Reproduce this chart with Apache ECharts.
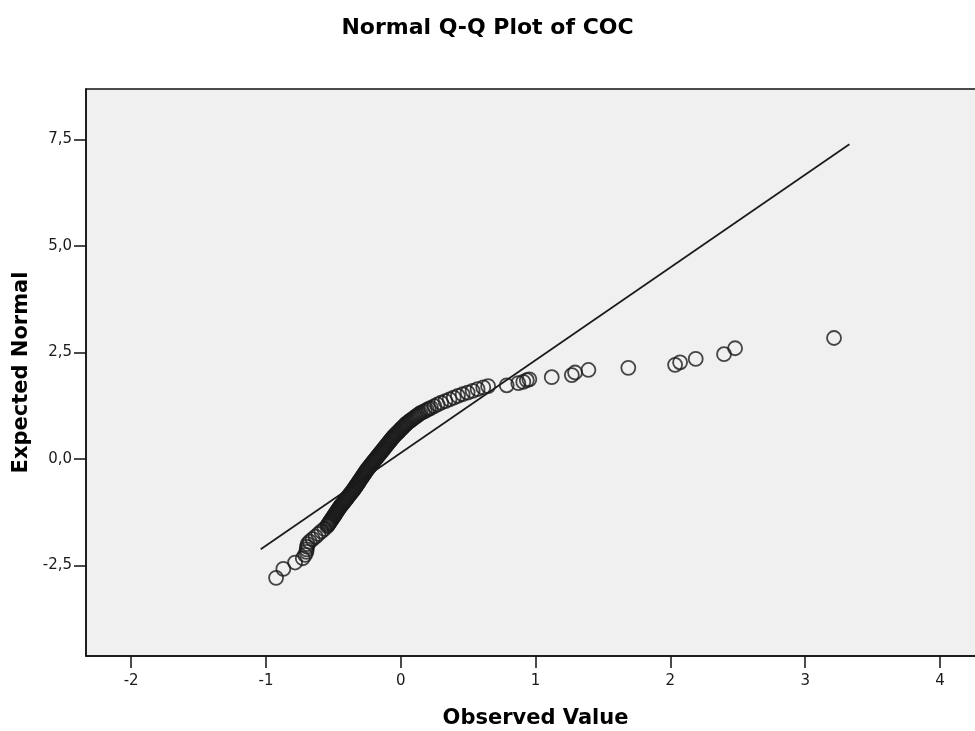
<!DOCTYPE html>
<html>
<head>
<meta charset="utf-8">
<title>Normal Q-Q Plot of COC</title>
<script src="https://cdn.jsdelivr.net/npm/echarts@6/dist/echarts.min.js"></script>
<style>
  html, body { margin: 0; padding: 0; background: #ffffff; }
  #chart { width: 975px; height: 731px; }
</style>
</head>
<body>
<div id="chart"></div>
<script>
const observed = [
    -0.925, -0.871, -0.784, -0.727, -0.710,
    -0.700, -0.698, -0.695, -0.691, -0.676, -0.654, -0.632, -0.611, -0.589, -0.567,
    -0.546, -0.541, -0.535, -0.530, -0.525, -0.520, -0.514, -0.509, -0.504, -0.499,
    -0.493, -0.488, -0.483, -0.477, -0.472, -0.467, -0.462, -0.456, -0.451, -0.445,
    -0.439, -0.432, -0.426, -0.420, -0.414, -0.407, -0.401, -0.395, -0.388, -0.382,
    -0.376, -0.370, -0.363, -0.357, -0.351, -0.346, -0.340, -0.335, -0.330, -0.324,
    -0.319, -0.314, -0.308, -0.303, -0.298, -0.292, -0.287, -0.282, -0.276, -0.271,
    -0.266, -0.260, -0.255, -0.250, -0.243, -0.237, -0.231, -0.224, -0.218, -0.212,
    -0.206, -0.199, -0.193, -0.187, -0.180, -0.174, -0.168, -0.162, -0.155, -0.149,
    -0.143, -0.136, -0.130, -0.124, -0.117, -0.111, -0.105, -0.098, -0.092, -0.086,
    -0.079, -0.073, -0.066, -0.060, -0.053, -0.046, -0.038, -0.030, -0.022, -0.014,
    -0.007, 0.001, 0.009, 0.017, 0.025, 0.033, 0.040, 0.049, 0.060, 0.071,
    0.081, 0.092, 0.103, 0.113, 0.124, 0.135, 0.146, 0.162, 0.177, 0.193,
    0.208, 0.224,
    0.249, 0.273, 0.300, 0.331, 0.362, 0.393, 0.424, 0.459, 0.496, 0.533,
    0.570, 0.612, 0.648,
    0.786, 0.872, 0.909, 0.935, 0.954, 1.120, 1.269, 1.293, 1.392, 1.688,
    2.035, 2.072, 2.188, 2.398, 2.480, 3.214
];
const expected = [
    -2.79, -2.58, -2.43, -2.33, -2.25,
    -2.18, -2.12, -2.06, -2.00, -1.94, -1.88, -1.82, -1.76, -1.70, -1.64,
    -1.575, -1.550, -1.525, -1.500, -1.475, -1.450, -1.425, -1.400, -1.375, -1.350,
    -1.325, -1.300, -1.275, -1.250, -1.225, -1.200, -1.175, -1.150, -1.125, -1.100,
    -1.075, -1.050, -1.025, -1.000, -0.975, -0.950, -0.925, -0.900, -0.875, -0.850,
    -0.825, -0.800, -0.775, -0.750, -0.725, -0.700, -0.675, -0.650, -0.625, -0.600,
    -0.575, -0.550, -0.525, -0.500, -0.475, -0.450, -0.425, -0.400, -0.375, -0.350,
    -0.325, -0.300, -0.275, -0.250, -0.225, -0.200, -0.175, -0.150, -0.125, -0.100,
    -0.075, -0.050, -0.025, 0.000, 0.025, 0.050, 0.075, 0.100, 0.125, 0.150,
    0.175, 0.200, 0.225, 0.250, 0.275, 0.300, 0.325, 0.350, 0.375, 0.400,
    0.425, 0.450, 0.475, 0.500, 0.525, 0.550, 0.575, 0.600, 0.625, 0.650,
    0.675, 0.700, 0.725, 0.750, 0.775, 0.800, 0.825, 0.850, 0.875, 0.900,
    0.925, 0.950, 0.975, 1.000, 1.025, 1.050, 1.075, 1.100, 1.125, 1.150,
    1.175, 1.200,
    1.24, 1.28, 1.32, 1.36, 1.40, 1.44, 1.48, 1.52, 1.56, 1.60,
    1.64, 1.68, 1.71,
    1.73, 1.78, 1.81, 1.85, 1.87, 1.92, 1.97, 2.03, 2.09, 2.14,
    2.21, 2.27, 2.35, 2.46, 2.60, 2.84
];

// reference line end points
const refLineX = [-1.039, 3.328];
const refLineY = [-2.12, 7.387];

const xTicks = [-2, -1, 0, 1, 2, 3, 4];
const yTicks = [-2.5, 0, 2.5, 5, 7.5];

const fontFamily = '"DejaVu Sans", sans-serif';
const inkColor = '#1a1a1a';

const points = observed.map(function (v, i) { return [v, expected[i]]; });
const refLine = refLineX.map(function (v, i) { return [v, refLineY[i]]; });

const chart = echarts.init(document.getElementById('chart'));
chart.setOption({
    animation: false,
    backgroundColor: '#ffffff',
    textStyle: { fontFamily: fontFamily, color: inkColor },
    title: {
        text: 'Normal Q-Q Plot of COC',
        left: 'center',
        top: 12,
        textStyle: { fontFamily: fontFamily, fontSize: 22, fontWeight: 'bold', color: '#000' }
    },
    grid: {
        left: 86,
        top: 89,
        right: -10,
        bottom: 75,
        outerBoundsMode: 'none',
        containLabel: false,
        show: true,
        backgroundColor: '#f0f0f0',
        borderColor: '#111',
        borderWidth: 1.5
    },
    xAxis: {
        type: 'value',
        min: -2.335,
        max: 4.334,
        name: 'Observed Value',
        nameLocation: 'middle',
        nameGap: 52,
        nameTextStyle: { fontFamily: fontFamily, fontSize: 21, fontWeight: 'bold', color: '#000' },
        axisLine: { show: true, onZero: false, lineStyle: { color: '#111', width: 1.5 } },
        axisTick: {
            show: true,
            length: 12,
            customValues: xTicks,
            lineStyle: { color: '#111', width: 1.5 }
        },
        axisLabel: {
            customValues: xTicks,
            margin: 18,
            fontSize: 15,
            color: inkColor,
            fontFamily: fontFamily
        },
        splitLine: { show: false }
    },
    yAxis: {
        type: 'value',
        min: -4.624,
        max: 8.685,
        name: 'Expected Normal',
        nameLocation: 'middle',
        nameGap: 50,
        nameTextStyle: { fontFamily: fontFamily, fontSize: 21, fontWeight: 'bold', color: '#000' },
        axisLine: { show: true, onZero: false, lineStyle: { color: '#111', width: 1.5 } },
        axisTick: {
            show: true,
            length: 12,
            customValues: yTicks,
            lineStyle: { color: '#111', width: 1.5 }
        },
        axisLabel: {
            customValues: yTicks,
            margin: 14,
            fontSize: 15,
            color: inkColor,
            fontFamily: fontFamily,
            formatter: function (v) { return v.toFixed(1).replace('.', ','); }
        },
        splitLine: { show: false }
    },
    series: [
        {
            type: 'line',
            data: refLine,
            symbol: 'none',
            silent: true,
            lineStyle: { color: '#1a1a1a', width: 1.7 },
            z: 2
        },
        {
            type: 'scatter',
            data: points,
            symbol: 'circle',
            symbolSize: 14,
            silent: true,
            itemStyle: { color: 'transparent', borderColor: '#1a1a1a', borderWidth: 1.8 },
            z: 3
        }
    ]
});
</script>
</body>
</html>
